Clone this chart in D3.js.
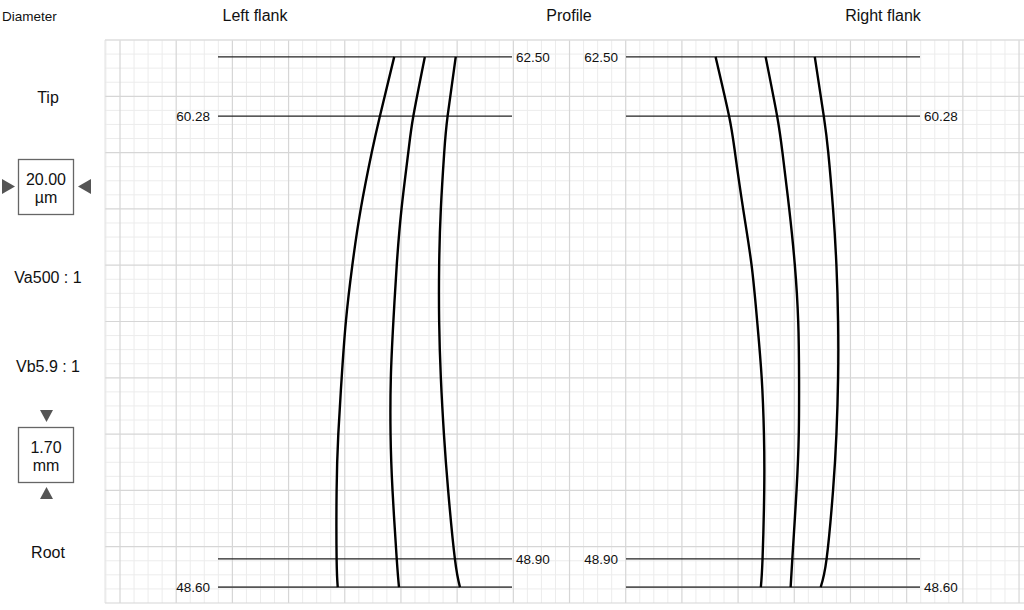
<!DOCTYPE html>
<html><head><meta charset="utf-8">
<script src="https://cdn.jsdelivr.net/npm/d3@7"></script>
<style>
html,body{margin:0;padding:0;background:#fff;}
svg{display:block;font-family:"Liberation Sans",Arial,sans-serif;}
</style></head>
<body><svg id="c" width="1024" height="610"></svg>
<script>
// ---------- data ----------
const panelTitles = ["Left flank", "Profile", "Right flank"];
const diameterLabels = ["62.50", "60.28", "48.90", "48.60"];
const diameterRoll = [0.51, 2.30, 15.67, 16.52];           // roll length (mm) of each diameter mark
const leftLabelSide = ["right", "left", "right", "left"];
const rightLabelSide = ["left", "right", "left", "right"];
const sideTexts = ["Tip", "Va500 : 1", "Vb5.9 : 1", "Root"];
const xScaleText = ["20.00", "µm"];
const yScaleText = ["1.70", "mm"];

// sample roll lengths (mm) for the profile traces
const sampleRoll = [0.51, 2.30, 3.40, 5.10, 6.80, 8.50, 10.20, 11.90, 13.60, 15.67, 16.52];
// trace positions (µm)
const leftTrace1 = [97.6, 92.5, 89.6, 85.7, 82.7, 80.4, 78.9, 77.7, 77.1, 77.1, 77.5];
const leftTrace2 = [108.5, 104.4, 102.6, 100.2, 98.5, 97.3, 96.4, 96.3, 97.0, 98.5, 99.3];
const leftTrace3 = [119.5, 116.6, 115.4, 114.2, 113.6, 113.6, 114.2, 115.3, 116.8, 119.2, 121.0];
const rightTrace1 = [212.0, 216.8, 218.9, 221.8, 224.8, 226.8, 228.4, 229.2, 229.3, 228.7, 228.1];
const rightTrace2 = [229.8, 233.9, 235.8, 238.2, 240.2, 241.4, 241.7, 241.6, 240.8, 239.3, 238.7];
const rightTrace3 = [247.3, 250.5, 252.1, 253.8, 255.0, 255.6, 255.6, 255.0, 253.8, 251.5, 249.4];

// ---------- layout ----------
const umPerMajor = 20, mmPerMajor = 1.70;
const gridLeft = 105, gridTop = 40, gridBottom = 603, W = 1024;
const x = d3.scaleLinear().domain([0, umPerMajor]).range([120, 120 + 56.19]);
const y = d3.scaleLinear().domain([0, mmPerMajor * 10]).range([gridTop, gridBottom]);
const leftPanel = [x.invert(218), x.invert(512)];
const rightPanel = [x.invert(626), x.invert(920)];

const svg = d3.select("#c");

// ---------- grid ----------
const g = svg.append("g");
const umMin = x.invert(gridLeft), umMax = x.invert(W);
const minorX = d3.range(Math.ceil(umMin / 5) * 5, umMax, 5);
const minorY = d3.range(0, mmPerMajor * 10 + 0.001, mmPerMajor / 4);
g.selectAll(".mx").data(minorX.filter(v => Math.abs(v % 20) > 0.01)).enter().append("line")
  .attr("x1", d => x(d)).attr("x2", d => x(d)).attr("y1", gridTop).attr("y2", gridBottom)
  .attr("stroke", "#ececec").attr("stroke-width", 1);
g.selectAll(".my").data(minorY.filter((v, i) => i % 4 !== 0)).enter().append("line")
  .attr("x1", gridLeft).attr("x2", W).attr("y1", d => y(d)).attr("y2", d => y(d))
  .attr("stroke", "#ececec").attr("stroke-width", 1);
g.selectAll(".Mx").data(minorX.filter(v => Math.abs(v % 20) <= 0.01)).enter().append("line")
  .attr("x1", d => x(d)).attr("x2", d => x(d)).attr("y1", gridTop).attr("y2", gridBottom)
  .attr("stroke", "#d6d6d6").attr("stroke-width", 1.2);
g.selectAll(".My").data(minorY.filter((v, i) => i % 4 === 0)).enter().append("line")
  .attr("x1", gridLeft).attr("x2", W).attr("y1", d => y(d)).attr("y2", d => y(d))
  .attr("stroke", "#d6d6d6").attr("stroke-width", 1.2);
// borders
g.append("line").attr("x1", gridLeft).attr("x2", gridLeft).attr("y1", gridTop).attr("y2", gridBottom)
  .attr("stroke", "#e2e2e2");
g.append("line").attr("x1", gridLeft).attr("x2", W).attr("y1", gridTop).attr("y2", gridTop)
  .attr("stroke", "#e2e2e2");

// ---------- titles ----------
const titleX = [255, 569, 883];
svg.selectAll(".title").data(panelTitles).enter().append("text")
  .attr("x", (d, i) => titleX[i]).attr("y", 21).attr("text-anchor", "middle")
  .attr("font-size", 16).attr("fill", "#111").text(d => d);
svg.append("text").attr("x", 2).attr("y", 21).attr("font-size", 13.5).attr("fill", "#111").text("Diameter");

// ---------- diameter marks ----------
function marks(range, sides) {
  diameterLabels.forEach((lab, i) => {
    const yy = y(diameterRoll[i]);
    const last = i === diameterLabels.length - 1;
    svg.append("line").attr("x1", x(range[0])).attr("x2", x(range[1]))
      .attr("y1", yy).attr("y2", yy)
      .attr("stroke", last ? "#555" : "#222").attr("stroke-width", last ? 1.8 : 1.2);
    const left = sides[i] === "left";
    svg.append("text").attr("x", left ? x(range[0]) - 8 : x(range[1]) + 4)
      .attr("y", yy).attr("dy", "0.35em")
      .attr("text-anchor", left ? "end" : "start")
      .attr("font-size", 13.5).attr("fill", "#111").text(lab);
  });
}
marks(leftPanel, leftLabelSide);
marks(rightPanel, rightLabelSide);

// ---------- traces ----------
const line = d3.line().x(d => x(d[0])).y(d => y(d[1])).curve(d3.curveNatural);
[leftTrace1, leftTrace2, leftTrace3, rightTrace1, rightTrace2, rightTrace3].forEach(tr => {
  svg.append("path").attr("d", line(tr.map((v, i) => [v, sampleRoll[i]])))
    .attr("fill", "none").attr("stroke", "#000").attr("stroke-width", 2.4);
});

// ---------- left column ----------
const sideY = [97, 277, 366, 552];
svg.selectAll(".side").data(sideTexts).enter().append("text")
  .attr("x", 48).attr("y", (d, i) => sideY[i]).attr("dy", "0.35em")
  .attr("text-anchor", "middle").attr("font-size", 16).attr("fill", "#111").text(d => d);

function box(top, texts) {
  svg.append("rect").attr("x", 18.5).attr("y", top + 0.5).attr("width", 55).attr("height", 55)
    .attr("fill", "#fff").attr("stroke", "#666").attr("stroke-width", 1.3);
  svg.append("text").attr("x", 46).attr("y", top + 20).attr("dy", "0.35em").attr("text-anchor", "middle")
    .attr("font-size", 16).attr("fill", "#111").text(texts[0]);
  svg.append("text").attr("x", 46).attr("y", top + 38).attr("dy", "0.35em").attr("text-anchor", "middle")
    .attr("font-size", 16).attr("fill", "#111").text(texts[1]);
}
box(159, xScaleText);
box(427, yScaleText);
const tri = "#555";
svg.append("path").attr("d", "M2,179 L15,186.5 L2,194 Z").attr("fill", tri);
svg.append("path").attr("d", "M91,179 L78,186.5 L91,194 Z").attr("fill", tri);
svg.append("path").attr("d", "M40,410 L53,410 L46.5,422 Z").attr("fill", tri);
svg.append("path").attr("d", "M40,499 L53,499 L46.5,487 Z").attr("fill", tri);
</script>
</body></html>
